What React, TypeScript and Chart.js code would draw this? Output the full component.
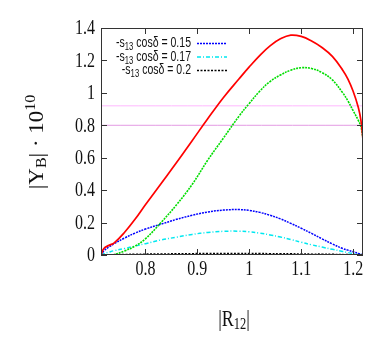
import React, { useEffect, useRef } from 'react';
import { Chart, registerables } from 'chart.js';
Chart.register(...registerables);

const X = [0.7145, 0.72, 0.73, 0.74, 0.76, 0.78, 0.80, 0.83, 0.86, 0.89, 0.92, 0.95, 0.98, 1.00, 1.02, 1.04, 1.06, 1.08, 1.10, 1.12, 1.14, 1.16, 1.18, 1.19, 1.20, 1.21, 1.215, 1.219];
const RED = [0.0, 0.04, 0.06, 0.075, 0.14, 0.22, 0.31, 0.44, 0.57, 0.705, 0.84, 0.97, 1.085, 1.16, 1.23, 1.29, 1.333, 1.356, 1.348, 1.32, 1.28, 1.225, 1.14, 1.085, 1.01, 0.91, 0.83, 0.71];
const GREEN = [0, 0, 0, 0.003, 0.025, 0.055, 0.10, 0.20, 0.31, 0.435, 0.585, 0.72, 0.855, 0.935, 1.01, 1.07, 1.11, 1.14, 1.155, 1.15, 1.125, 1.08, 1.0, 0.95, 0.89, 0.83, 0.79, 0.72];
const BLUE = [0, 0.025, 0.05, 0.07, 0.105, 0.135, 0.16, 0.19, 0.22, 0.245, 0.265, 0.277, 0.28, 0.275, 0.263, 0.245, 0.223, 0.195, 0.165, 0.133, 0.1, 0.068, 0.04, 0.03, 0.02, 0.01, 0.005, 0];
const CYAN = [0, 0.008, 0.018, 0.027, 0.04, 0.055, 0.07, 0.093, 0.11, 0.127, 0.139, 0.146, 0.147, 0.143, 0.135, 0.124, 0.111, 0.095, 0.079, 0.063, 0.049, 0.035, 0.022, 0.015, 0.009, 0.004, 0.002, 0];
const BLACK = [0, 0.001, 0.002, 0.003, 0.004, 0.005, 0.006, 0.007, 0.008, 0.009, 0.0095, 0.01, 0.01, 0.01, 0.0095, 0.009, 0.009, 0.008, 0.007, 0.006, 0.006, 0.005, 0.003, 0.003, 0.002, 0.001, 0.0005, 0];
const BANDS = [0.92, 0.80];
const X_TICKS = [0.8, 0.9, 1.0, 1.1, 1.2];
const X_TICK_LABELS = ['0.8', '0.9', '1', '1.1', '1.2'];
const Y_TICKS = [0, 0.2, 0.4, 0.6, 0.8, 1.0, 1.2, 1.4];
const Y_TICK_LABELS = ['0', '0.2', '0.4', '0.6', '0.8', '1', '1.2', '1.4'];
const LEGEND = ['0.15', '0.17', '0.2'];
const X_MIN = 0.7145;
const X_MAX = 1.219;

type Part = { text: string; font: string; dy?: number };

function partsWidth(ctx: CanvasRenderingContext2D, parts: Part[]) {
  let w = 0;
  for (const p of parts) {
    ctx.font = p.font;
    w += ctx.measureText(p.text).width;
  }
  return w;
}

function drawParts(ctx: CanvasRenderingContext2D, parts: Part[], x: number, y: number, align: string, sx: number) {
  const w = partsWidth(ctx, parts);
  ctx.save();
  ctx.translate(x, y);
  ctx.scale(sx, 1);
  let start = align === 'right' ? -w : align === 'center' ? -w / 2 : 0;
  ctx.textBaseline = 'middle';
  ctx.textAlign = 'left';
  for (const p of parts) {
    ctx.font = p.font;
    ctx.fillText(p.text, start, p.dy || 0);
    start += ctx.measureText(p.text).width;
  }
  ctx.restore();
}

const SERIF = "'Liberation Serif', 'DejaVu Serif', serif";
const SANS = "'Liberation Sans', Arial, sans-serif";

const decor = {
  id: 'decor',
  afterDraw(chart: any) {
    const ctx: CanvasRenderingContext2D = chart.ctx;
    const { left, right, top, bottom } = chart.chartArea;
    const xs = chart.scales.x;
    const ys = chart.scales.y;
    ctx.save();
    ctx.strokeStyle = '#333';
    ctx.lineWidth = 1;
    ctx.strokeRect(left + 0.5, top + 0.5, right - left - 1, bottom - top - 1);
    const tl = 6;
    ctx.beginPath();
    for (const v of Y_TICKS) {
      const py = Math.round(ys.getPixelForValue(v)) + 0.5;
      ctx.moveTo(left, py); ctx.lineTo(left + tl, py);
      ctx.moveTo(right, py); ctx.lineTo(right - tl, py);
    }
    for (const v of X_TICKS) {
      const px = Math.round(xs.getPixelForValue(v)) + 0.5;
      ctx.moveTo(px, bottom); ctx.lineTo(px, bottom - tl);
      ctx.moveTo(px, top); ctx.lineTo(px, top + tl);
    }
    ctx.stroke();

    ctx.fillStyle = '#111';
    const tf = `20px ${SERIF}`;
    Y_TICKS.forEach((v, i) => {
      drawParts(ctx, [{ text: Y_TICK_LABELS[i], font: tf }], left - 6, ys.getPixelForValue(v) + 1, 'right', 0.8);
    });
    X_TICKS.forEach((v, i) => {
      drawParts(ctx, [{ text: X_TICK_LABELS[i], font: tf }], xs.getPixelForValue(v), bottom + 15, 'center', 0.8);
    });

    // x title
    drawParts(ctx, [
      { text: '|R', font: `23px ${SERIF}` },
      { text: '12', font: `16px ${SERIF}`, dy: 5 },
      { text: '|', font: `23px ${SERIF}` },
    ], 234, 320, 'center', 0.78);

    // y title (rotated)
    ctx.save();
    ctx.translate(38, 142);
    ctx.rotate(-Math.PI / 2);
    ctx.scale(1, 0.9);
    drawParts(ctx, [
      { text: '|Y', font: `23px ${SERIF}` },
      { text: 'B', font: `16px ${SERIF}`, dy: 5 },
      { text: '| \u00b7 10', font: `23px ${SERIF}` },
      { text: '10', font: `16px ${SERIF}`, dy: -8 },
    ], 0, 0, 'center', 1);
    ctx.restore();

    // legend
    const styles = [
      { color: '#0000ff', dash: [2, 1] },
      { color: '#00e8f0', dash: [4, 2, 1, 2] },
      { color: '#000000', dash: [2, 1.5] },
    ];
    const first: Part[] = [
      { text: '-s', font: `15px ${SANS}` },
      { text: '13', font: `11px ${SANS}`, dy: 4 },
      { text: ' cos\u03b4 = 0.15', font: `15px ${SANS}` },
    ];
    const sx = 75 / partsWidth(ctx, first);
    LEGEND.forEach((val, i) => {
      const y = 43 + i * 13.5;
      ctx.fillStyle = '#111';
      drawParts(ctx, [
        { text: '-s', font: `15px ${SANS}` },
        { text: '13', font: `11px ${SANS}`, dy: 4 },
        { text: ' cos\u03b4 = ' + val, font: `15px ${SANS}` },
      ], 191, y, 'right', sx);
      ctx.strokeStyle = styles[i].color;
      ctx.lineWidth = 1.5;
      ctx.setLineDash(styles[i].dash);
      ctx.beginPath();
      ctx.moveTo(197, y + 0.5);
      ctx.lineTo(227, y + 0.5);
      ctx.stroke();
      ctx.setLineDash([]);
    });
    ctx.restore();
  },
};

function series(vals: number[]) {
  return X.map((x, i) => ({ x, y: vals[i] }));
}

export default function App() {
  const ref = useRef<HTMLCanvasElement>(null);
  useEffect(() => {
    if (!ref.current) return;
    const common = { pointRadius: 0, fill: false, tension: 0.4 };
    const chart = new Chart(ref.current, {
      type: 'line',
      data: {
        datasets: [
          { ...common, data: series(RED), borderColor: '#ff0000', borderWidth: 1.7 },
          { ...common, data: series(GREEN), borderColor: '#00dd00', borderWidth: 1.6, borderDash: [2, 1] },
          { ...common, data: series(BLUE), borderColor: '#0000ff', borderWidth: 1.5, borderDash: [2, 1] },
          { ...common, data: series(CYAN), borderColor: '#00e8f0', borderWidth: 1.5, borderDash: [4, 2, 1, 2] },
          { ...common, data: series(BLACK), borderColor: '#000000', borderWidth: 1.3, borderDash: [2, 1.5] },
          { ...common, data: [{ x: X_MIN, y: BANDS[0] }, { x: X_MAX, y: BANDS[0] }], borderColor: '#ffb8ff', borderWidth: 1 },
          { ...common, data: [{ x: X_MIN, y: BANDS[1] }, { x: X_MAX, y: BANDS[1] }], borderColor: '#e39be3', borderWidth: 1 },
        ],
      },
      options: {
        responsive: false,
        animation: false,
        events: [],
        layout: { padding: { top: 28, right: 19, left: 0, bottom: 0 } },
        plugins: { legend: { display: false }, tooltip: { enabled: false } },
        scales: {
          x: {
            type: 'linear', min: X_MIN, max: X_MAX,
            ticks: { display: false }, grid: { display: false }, border: { display: false },
            afterFit: (s: any) => { s.height = 99; },
          },
          y: {
            type: 'linear', min: 0, max: 1.4,
            ticks: { display: false }, grid: { display: false }, border: { display: false },
            afterFit: (s: any) => { s.width = 101; },
          },
        },
      },
      plugins: [decor],
    });
    return () => chart.destroy();
  }, []);
  return (
    <div style={{ position: 'fixed', left: 0, top: 0, width: 382, height: 354, background: '#fff' }}>
      <canvas ref={ref} width={382} height={354} />
    </div>
  );
}
